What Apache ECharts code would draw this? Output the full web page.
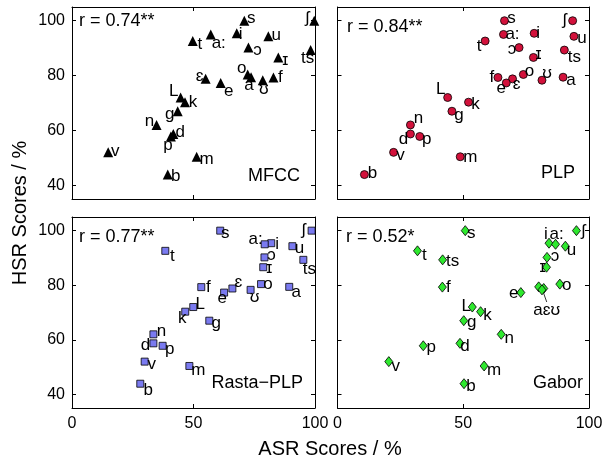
<!DOCTYPE html>
<html>
<head>
<meta charset="utf-8">
<script src="https://cdn.jsdelivr.net/npm/echarts@6/dist/echarts.min.js"></script>
<style>
  html, body { margin: 0; padding: 0; background: #fff; }
  #chart { width: 615px; height: 461px; }
</style>
</head>
<body>
<div id="chart"></div>
<script>
const phonemes = ["s", "ʃ", "i", "a:", "t", "u", "ɔ", "ɪ", "ts", "ɛ", "e", "o", "a", "ʊ", "f", "L", "k", "g", "n", "d", "p", "v", "m", "b"];
// human scores, same for every panel
const hsr = [100, 100, 95.4, 95.0, 92.6, 94.3, 90.2, 86.6, 89.3, 78.8, 77.3, 80.4, 79.4, 78.3, 79.3, 72.0, 70.3, 67.0, 62.0, 58.7, 57.8, 52.0, 50.4, 43.9];
// recognizer scores per feature type
const asrMfcc = [70.9, 99.7, 67.8, 57.1, 49.7, 80.8, 72.6, 84.9, 98.2, 55.0, 61.2, 72.3, 73.7, 78.5, 82.9, 44.7, 46.5, 43.5, 34.8, 41.7, 40.7, 14.9, 51.3, 39.4];
const asrPlp = [66.4, 93.5, 78.2, 66.0, 58.7, 94.0, 72.2, 77.9, 90.2, 69.6, 67.1, 73.9, 89.7, 81.3, 63.8, 43.8, 52.1, 45.5, 29.0, 29.0, 32.7, 22.3, 48.8, 10.7];
const asrRasta = [61.0, 98.6, 82.0, 79.3, 38.4, 90.7, 79.2, 78.7, 95.2, 66.0, 62.6, 77.8, 89.4, 73.5, 53.2, 49.9, 46.6, 56.5, 33.5, 33.5, 37.3, 29.9, 48.3, 28.1];
const asrGabor = [50.8, 95.0, 84.1, 86.7, 31.8, 90.6, 83.3, 83.1, 41.8, 82.0, 72.9, 88.4, 80.0, 81.3, 41.7, 53.6, 56.9, 50.2, 65.1, 48.7, 34.1, 20.4, 58.3, 50.3];
const panelNames = ["MFCC", "PLP", "Rasta\u2212PLP", "Gabor"];
const corrTexts = ["r = 0.74**", "r = 0.84**", "r = 0.77**", "r = 0.52*"];
const yTicks = [40, 60, 80, 100];

// label offsets (px) from marker centre, per panel
const offMfcc = {
  s: [7, -2], "ʃ": [-7, -2], i: [4, 1], "a:": [8, 9], t: [7, 3], u: [8, -1], "ɔ": [9, 3], "ɪ": [7, 3],
  ts: [-3, 8], "ɛ": [-6, -3], e: [8, 8], o: [-6, -6], a: [-2, 8], "ʊ": [1, 9], f: [7, 0], L: [-7, -6],
  k: [8, 0], g: [-8, 3], n: [-7, -4], d: [7, -2], p: [-3, 9], v: [7, -1], m: [10, 3], b: [8, 2]
};
const offPlp = {
  s: [7, -2], "ʃ": [-8, 0], i: [4, 0], "a:": [9, 0], t: [-6, 5], u: [8, 2], "ɔ": [-7, 2], "ɪ": [5, -3],
  ts: [10, 7], "ɛ": [4, 5], e: [-5, 5], o: [6, -3], a: [8, 3], "ʊ": [5, -7], f: [-6, 0], L: [-7, -8],
  k: [7, 2], g: [7, 4], n: [8, -7], d: [-7, 5], p: [7, 3], v: [7, 3], m: [10, 1], b: [8, -1]
};
const offRasta = {
  s: [5, 3], "ʃ": [-8, 0], i: [6, 1], "a:": [-9, -5], t: [7, 5], u: [7, 2], "ɔ": [7, -2], "ɪ": [6, 1],
  ts: [6, 9], "ɛ": [6, -6], e: [-2, 6], o: [7, 0], a: [7, 5], "ʊ": [4, 7], f: [7, 0], L: [7, -3],
  k: [-3, 7], g: [7, 3], n: [8, -3], d: [-8, 2], p: [7, 4], v: [7, 3], m: [9, 4], b: [8, 7]
};
const offGabor = {
  s: [6, 3], "ʃ": [7, 1], i: [-3, -9], "a:": [1, -10], t: [7, 4], u: [6, 4], "ɔ": [8, -1], "ɪ": [-4, 0],
  ts: [10, 1], "ɛ": [3, 22], e: [-7, 1], o: [7, 1], f: [6, 0], L: [-6, -1], k: [7, 4], g: [8, 2], n: [8, 4],
  d: [5, 3], p: [8, 2], v: [7, 5], m: [10, 4], b: [7, 3]
};

const FONT = "'Liberation Sans', 'DejaVu Sans', Arial, sans-serif";
const grids = [
  { left: 72, top: 7, width: 243, height: 192 },
  { left: 337.5, top: 7, width: 251.5, height: 192 },
  { left: 72, top: 217, width: 243, height: 191 },
  { left: 337.5, top: 217, width: 251.5, height: 191 }
];

const chart = echarts.init(document.getElementById("chart"), null, { renderer: "canvas" });

const xAxes = [];
const yAxes = [];
grids.forEach((g, i) => {
  const bottomRow = i >= 2;
  const leftCol = i % 2 === 0;
  ["bottom", "top"].forEach(pos => {
    xAxes.push({
      gridIndex: i, type: "value", position: pos, min: 0, max: 100, interval: 50,
      axisLine: { show: true, onZero: false, lineStyle: { color: "#000", width: 1 } },
      axisTick: { show: true, inside: true, length: 4, lineStyle: { color: "#000" } },
      axisLabel: { show: bottomRow && pos === "bottom", color: "#000", fontSize: 16, fontFamily: FONT, margin: 8 },
      splitLine: { show: false }
    });
  });
  ["left", "right"].forEach(pos => {
    yAxes.push({
      gridIndex: i, type: "value", position: pos, min: 35, max: 105,
      axisLine: { show: true, onZero: false, lineStyle: { color: "#000", width: 1 } },
      axisTick: { show: true, inside: true, length: 4, customValues: yTicks, lineStyle: { color: "#000" } },
      axisLabel: { show: leftCol && pos === "left", customValues: yTicks, color: "#000", fontSize: 16, fontFamily: FONT, margin: 7 },
      splitLine: { show: false }
    });
  });
});

function makeSeries(i, asr, offsets, symbol, size, color) {
  const data = phonemes.map((ph, k) => ({
    value: [asr[k], hsr[k]],
    name: ph,
    label: { show: !!offsets[ph] }
  }));
  return {
    type: "scatter",
    xAxisIndex: i * 2,
    yAxisIndex: i * 2,
    symbol: symbol,
    symbolSize: size,
    itemStyle: { color: color, borderColor: "#000", borderWidth: color === "#000" ? 0 : 0.8, opacity: 1 },
    label: {
      show: true, position: "inside", formatter: "{b}",
      color: "#000", fontSize: 17, fontFamily: FONT
    },
    labelLayout: p => {
      const o = offsets[phonemes[p.dataIndex]] || [0, 0];
      return { dx: o[0], dy: o[1] };
    },
    labelLine: { show: false },
    emphasis: { disabled: true },
    data: data,
    z: 3
  };
}

const series = [
  makeSeries(0, asrMfcc, offMfcc, "triangle", 10, "#000"),
  makeSeries(1, asrPlp, offPlp, "circle", 8, "#d2113b"),
  makeSeries(2, asrRasta, offRasta, "rect", 7, "#7a7af0"),
  makeSeries(3, asrGabor, offGabor, "diamond", [8, 10], "#2ee82e")
];

// grouped label for the a / ɛ / ʊ cluster in the Gabor panel
const clusterIdx = phonemes.indexOf("ɛ");
series[3].data[clusterIdx].label = { show: true, formatter: "aɛʊ" };
series[3].data[clusterIdx].labelLine = { show: true, lineStyle: { color: "#000", width: 0.8 } };

const graphic = [];
const corrPos = [[79, 21], [347, 27], [79, 237], [346, 237]];
const namePos = [[300, 176], [575, 173], [303, 383], [583, 383]];
corrTexts.forEach((t, i) => {
  graphic.push({
    type: "text", x: corrPos[i][0], y: corrPos[i][1],
    style: { text: t, fill: "#000", font: "18px " + FONT, textAlign: "left", textVerticalAlign: "middle" }
  });
  graphic.push({
    type: "text", x: namePos[i][0], y: namePos[i][1],
    style: { text: panelNames[i], fill: "#000", font: "18px " + FONT, textAlign: "right", textVerticalAlign: "middle" }
  });
});
graphic.push({
  type: "text", x: 330, y: 449,
  style: { text: "ASR Scores / %", fill: "#000", font: "20px " + FONT, textAlign: "center", textVerticalAlign: "middle" }
});
graphic.push({
  type: "text", x: 20, y: 213, rotation: Math.PI / 2,
  style: { text: "HSR Scores / %", fill: "#000", font: "20px " + FONT, textAlign: "center", textVerticalAlign: "middle" }
});

chart.setOption({
  animation: false,
  backgroundColor: "#fff",
  grid: grids,
  xAxis: xAxes,
  yAxis: yAxes,
  series: series,
  graphic: graphic
});
</script>
</body>
</html>
